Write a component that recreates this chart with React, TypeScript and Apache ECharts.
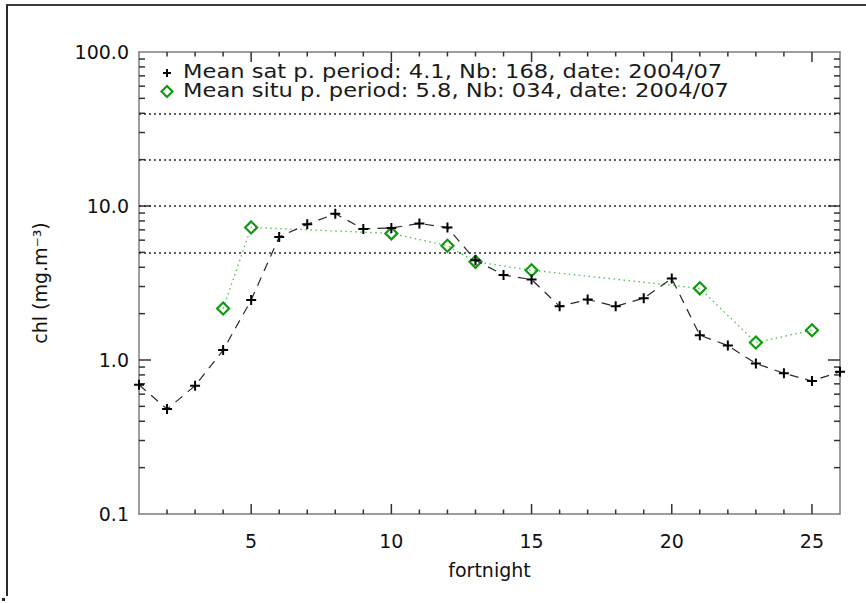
import React, { useEffect, useRef } from "react";
import * as echarts from "echarts";

// Satellite mean chlorophyll per fortnight (one value per fortnight)
const satFortnight = [1, 2, 3, 4, 5, 6, 7, 8, 9, 10, 11, 12, 13, 14, 15, 16, 17, 18, 19, 20, 21, 22, 23, 24, 25, 26];
const satChl = [0.69, 0.48, 0.68, 1.16, 2.45, 6.3, 7.6, 8.9, 7.1, 7.2, 7.7, 7.25, 4.45, 3.56, 3.33, 2.23, 2.47, 2.23, 2.52, 3.38, 1.45, 1.24, 0.95, 0.82, 0.73, 0.84];

// In situ mean chlorophyll, only for sampled fortnights
const situFortnight = [4, 5, 10, 12, 13, 15, 21, 23, 25];
const situChl = [2.16, 7.26, 6.64, 5.52, 4.34, 3.83, 2.92, 1.3, 1.56];

// Horizontal dotted reference levels
const refLevels = [5, 10, 20, 40];

// Axis ticks and labels
const xTickValues = [2, 3, 4, 5, 6, 7, 8, 9, 10, 11, 12, 13, 14, 15, 16, 17, 18, 19, 20, 21, 22, 23, 24, 25];
const xMajorTicks = [5, 10, 15, 20, 25];
const yMajorTicks = [0.1, 1, 10, 100];
const yTickValues = [0.2, 0.3, 0.4, 0.5, 0.6, 0.7, 0.8, 0.9, 1, 2, 3, 4, 5, 6, 7, 8, 9, 10, 20, 30, 40, 50, 60, 70, 80, 90];

const legendSat = "Mean sat p. period: 4.1, Nb: 168, date: 2004/07";
const legendSitu = "Mean situ p. period: 5.8, Nb: 034, date: 2004/07";

const FONT = "DejaVu Sans";
const AXIS_COLOR = "#7d7d7d";
const TICK_COLOR = "#333333";
const SAT_COLOR = "#000000";
const SITU_COLOR = "#119a11";
const SITU_LINE = "#44c444";

const X_MIN = 1;
const X_MAX = 26;
const Y_MIN = 0.1;
const Y_MAX = 100;

const PLUS = "path://M4,0 L6,0 L6,10 L4,10 Z M0,4 L10,4 L10,6 L0,6 Z";

export default function App() {
  const ref = useRef<HTMLDivElement>(null);

  useEffect(() => {
    document.body.style.margin = "0";
    const chart = echarts.init(ref.current!, null, { renderer: "svg" });

    const frameAxis = { show: true, onZero: false, lineStyle: { color: AXIS_COLOR, width: 1.5 } };

    const option: any = {
      animation: false,
      grid: { left: 139, top: 52, right: 26, bottom: 89 },
      xAxis: [
        {
          type: "value",
          min: X_MIN,
          max: X_MAX,
          position: "bottom",
          axisLine: frameAxis,
          axisTick: { show: false },
          axisLabel: {
            show: true,
            customValues: xMajorTicks,
            fontSize: 19,
            fontFamily: FONT,
            color: "#111",
            margin: 17,
          },
          splitLine: { show: false },
          name: "fortnight",
          nameLocation: "middle",
          nameGap: 46,
          nameTextStyle: { fontSize: 19, fontFamily: FONT, color: "#111" },
        },
        {
          type: "value",
          min: X_MIN,
          max: X_MAX,
          position: "top",
          axisLine: frameAxis,
          axisTick: { show: false },
          axisLabel: { show: false },
          splitLine: { show: false },
        },
      ],
      yAxis: [
        {
          type: "log",
          logBase: 10,
          min: Y_MIN,
          max: Y_MAX,
          position: "left",
          axisLine: frameAxis,
          axisTick: { show: false },
          axisLabel: {
            show: true,
            customValues: yMajorTicks,
            fontSize: 19,
            fontFamily: FONT,
            color: "#111",
            margin: 10,
            formatter: (v: number) => Number(v).toFixed(1),
          },
          splitLine: { show: false },
          name: "chl (mg.m\u207B\u00B3)",
          nameLocation: "middle",
          nameRotate: 90,
          nameGap: 90,
          nameTextStyle: { fontSize: 19, fontFamily: FONT, color: "#111" },
        },
        {
          type: "log",
          logBase: 10,
          min: Y_MIN,
          max: Y_MAX,
          position: "right",
          axisLine: frameAxis,
          axisTick: { show: false },
          axisLabel: { show: false },
          splitLine: { show: false },
        },
      ],
      series: [
        // inward tick marks, bottom edge
        {
          type: "custom",
          xAxisIndex: 0,
          yAxisIndex: 0,
          data: xTickValues.map((v) => [v, 1]),
          renderItem: (_p: any, api: any) => {
            const v = api.value(0);
            const len = xMajorTicks.indexOf(v) >= 0 ? 10 : 4.5;
            const b = api.coord([v, Y_MIN]);
            return { type: "line", shape: { x1: b[0], y1: b[1], x2: b[0], y2: b[1] - len }, style: { stroke: TICK_COLOR, lineWidth: 1.5 } };
          },
        },
        // inward tick marks, top edge
        {
          type: "custom",
          xAxisIndex: 0,
          yAxisIndex: 0,
          data: xTickValues.map((v) => [v, 1]),
          renderItem: (_p: any, api: any) => {
            const v = api.value(0);
            const len = xMajorTicks.indexOf(v) >= 0 ? 10 : 4.5;
            const t = api.coord([v, Y_MAX]);
            return { type: "line", shape: { x1: t[0], y1: t[1], x2: t[0], y2: t[1] + len }, style: { stroke: TICK_COLOR, lineWidth: 1.5 } };
          },
        },
        // inward tick marks, left edge
        {
          type: "custom",
          xAxisIndex: 0,
          yAxisIndex: 0,
          data: yTickValues.map((v) => [X_MIN, v]),
          renderItem: (_p: any, api: any) => {
            const v = api.value(1);
            const len = yMajorTicks.indexOf(v) >= 0 ? 12 : 6;
            const l = api.coord([X_MIN, v]);
            return { type: "line", shape: { x1: l[0], y1: l[1], x2: l[0] + len, y2: l[1] }, style: { stroke: TICK_COLOR, lineWidth: 1.5 } };
          },
        },
        // inward tick marks, right edge
        {
          type: "custom",
          xAxisIndex: 0,
          yAxisIndex: 0,
          data: yTickValues.map((v) => [X_MAX, v]),
          renderItem: (_p: any, api: any) => {
            const v = api.value(1);
            const len = yMajorTicks.indexOf(v) >= 0 ? 12 : 6;
            const r = api.coord([X_MAX, v]);
            return { type: "line", shape: { x1: r[0], y1: r[1], x2: r[0] - len, y2: r[1] }, style: { stroke: TICK_COLOR, lineWidth: 1.5 } };
          },
        },
        {
          name: "situ",
          type: "line",
          xAxisIndex: 0,
          yAxisIndex: 0,
          data: situFortnight.map((f, i) => [f, situChl[i]]),
          symbol: "diamond",
          symbolSize: 12,
          itemStyle: { color: "rgba(0,0,0,0)", borderColor: SITU_COLOR, borderWidth: 2.2 },
          lineStyle: { color: SITU_LINE, width: 1.3, type: [1.5, 3.5] },
          z: 3,
        },
        {
          name: "sat",
          type: "line",
          xAxisIndex: 0,
          yAxisIndex: 0,
          data: satFortnight.map((f, i) => [f, satChl[i]]),
          symbol: PLUS,
          symbolSize: 10,
          itemStyle: { color: SAT_COLOR },
          lineStyle: { color: "#2a2a2a", width: 1.2, type: [9, 7] },
          markLine: {
            silent: true,
            symbol: "none",
            label: { show: false },
            lineStyle: { color: "#2a2a2a", width: 1.5, type: [2, 3] },
            data: refLevels.map((v) => ({ yAxis: v })),
          },
          z: 4,
        },
      ],
      graphic: [
        // outer frame
        { type: "line", shape: { x1: 6, y1: 5, x2: 866, y2: 5 }, style: { stroke: "#3c3c3c", lineWidth: 2 } },
        { type: "line", shape: { x1: 7, y1: 5, x2: 7, y2: 596 }, style: { stroke: "#2a2a2a", lineWidth: 2 } },
        { type: "rect", shape: { x: 2, y: 598, width: 3, height: 3 }, style: { fill: "#222" } },
        // legend
        { type: "line", shape: { x1: 163, y1: 73, x2: 171, y2: 73 }, style: { stroke: SAT_COLOR, lineWidth: 2 } },
        { type: "line", shape: { x1: 167, y1: 69, x2: 167, y2: 77 }, style: { stroke: SAT_COLOR, lineWidth: 2 } },
        {
          type: "text",
          x: 183,
          y: 70.5,
          scaleX: 1.13,
          style: { text: legendSat, fontSize: 20, fontFamily: FONT, fill: "#1a1a1a", verticalAlign: "middle", align: "left" },
        },
        {
          type: "polygon",
          shape: { points: [[167, 86], [172.5, 91.5], [167, 97], [161.5, 91.5]] },
          style: { fill: "none", stroke: SITU_COLOR, lineWidth: 2.2 },
        },
        {
          type: "text",
          x: 183,
          y: 90,
          scaleX: 1.13,
          style: { text: legendSitu, fontSize: 20, fontFamily: FONT, fill: "#1a1a1a", verticalAlign: "middle", align: "left" },
        },
      ],
    };

    chart.setOption(option);
    return () => chart.dispose();
  }, []);

  return (
    <div
      ref={ref}
      style={{ position: "fixed", left: 0, top: 0, width: 866, height: 603, background: "#ffffff" }}
    />
  );
}
